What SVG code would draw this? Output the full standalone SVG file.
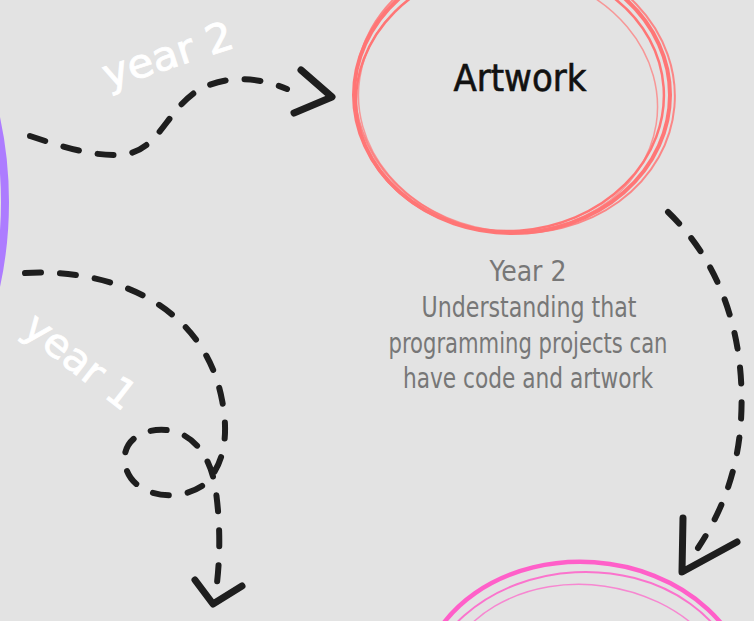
<svg xmlns="http://www.w3.org/2000/svg" width="754" height="621" viewBox="0 0 754 621">
<style>
.bg{fill:#e3e3e3}
.conn{fill:none;stroke:#1e1e1e;stroke-width:6;stroke-linecap:round;stroke-linejoin:round}
.dash{stroke-dasharray:16 19}
.head{fill:none;stroke:#1e1e1e;stroke-width:7;stroke-linecap:round;stroke-linejoin:round}
.red{fill:none;stroke:#ff7676;stroke-linecap:round}
.pink{fill:none;stroke:#ff5fc9;stroke-linecap:round}
.hand{font-family:"Liberation Sans Narrow","DejaVu Sans Condensed","Liberation Sans",sans-serif}
.lbl{fill:#ffffff;font-size:40px}
.desc{fill:#777777;font-size:28px;text-anchor:middle}
</style>
<rect class="bg" x="0" y="0" width="754" height="621"/>

<g id="node-purple">
<circle cx="-395" cy="202" r="400" fill="none" stroke="#ad7cff" stroke-width="8"/>
</g>

<g id="node-artwork">
<ellipse class="red" cx="512" cy="95" rx="158" ry="138" stroke-width="4"/>
<ellipse class="red" cx="510" cy="98" rx="154" ry="133" stroke-width="2.5" transform="rotate(-4 510 98)"/>
<ellipse class="red" cx="515" cy="93" rx="160" ry="140" stroke-width="2" transform="rotate(5 515 93)" opacity="0.85"/>
<ellipse class="red" cx="508" cy="101" rx="150" ry="130" stroke-width="1.5" transform="rotate(9 508 101)" opacity="0.7"/>
<text class="hand" x="520" y="91" font-size="38" fill="#111111" stroke="#111111" stroke-width="0.6" text-anchor="middle" textLength="133" lengthAdjust="spacingAndGlyphs">Artwork</text>
</g>

<g id="node-pink">
<ellipse class="pink" cx="585" cy="695" rx="165" ry="133" stroke-width="4.5" transform="rotate(4 585 695)"/>
<ellipse class="pink" cx="582" cy="700" rx="160" ry="128" stroke-width="2" transform="rotate(-3 582 700)" opacity="0.85"/>
<ellipse class="pink" cx="588" cy="705" rx="150" ry="120" stroke-width="1.5" transform="rotate(8 588 705)" opacity="0.7"/>
</g>

<g id="node-desc">
<text class="hand desc" x="528" y="281" textLength="77" lengthAdjust="spacingAndGlyphs">Year 2</text>
<text class="hand desc" x="529" y="317" textLength="215" lengthAdjust="spacingAndGlyphs">Understanding that</text>
<text class="hand desc" x="528" y="353" textLength="279" lengthAdjust="spacingAndGlyphs">programming projects can</text>
<text class="hand desc" x="528" y="388" textLength="250" lengthAdjust="spacingAndGlyphs">have code and artwork</text>
</g>

<g id="connectors">
<path class="conn dash" d="M30,136 C60,146 90,156 120,155 C160,152 165,110 200,89 C230,74 260,78 287,89"/>
<path class="head" d="M301,70 L332,97 L294,113"/>

<path class="conn dash" d="M25,273 C120,268 205,310 222,400 C230,440 222,470 202,486 C176,503 134,496 126,468 C119,443 140,428 166,430 C196,433 212,460 216,492 C221,530 220,565 215,598"/>
<path class="head" d="M195,580 L213,604 L242,586"/>

<path class="conn dash" d="M668,212 C720,262 746,335 741,420 C738,470 722,512 698,548"/>
<path class="head" d="M683,518 L682,572 L737,542"/>
</g>

<g id="labels">
<text class="hand lbl" x="172" y="68" text-anchor="middle" stroke="#ffffff" stroke-width="0.8" transform="rotate(-18 172 68)" textLength="135" lengthAdjust="spacingAndGlyphs">year 2</text>
<text class="hand lbl" x="72" y="372" text-anchor="middle" stroke="#ffffff" stroke-width="0.8" transform="rotate(38 72 372)" textLength="130" lengthAdjust="spacingAndGlyphs">year 1</text>
</g>
</svg>
